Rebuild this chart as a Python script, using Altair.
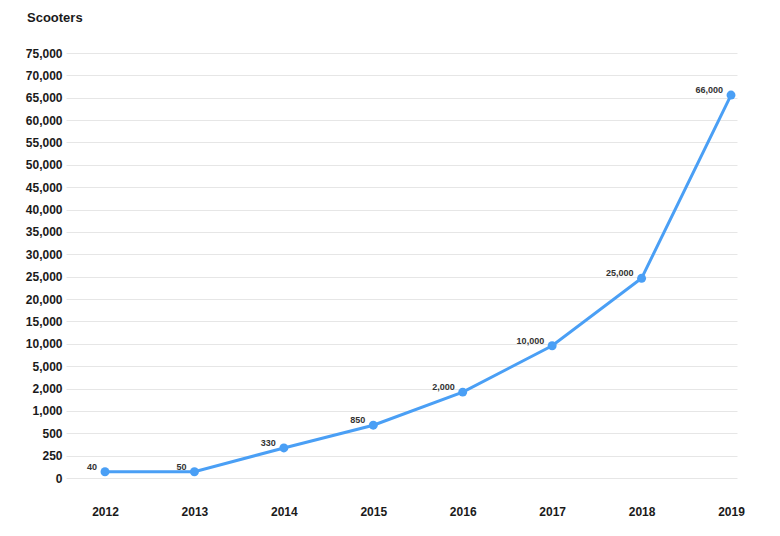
import altair as alt
import pandas as pd

years = [2012, 2013, 2014, 2015, 2016, 2017, 2018, 2019]
# vertical position of each point
plotted = [70, 70, 336, 680, 1840, 9560, 24640, 65600]
# the printed value labels
labels = ["40", "50", "330", "850", "2,000", "10,000", "25,000", "66,000"]
y_ticks = [0, 250, 500, 1000, 2000, 5000, 10000, 15000, 20000, 25000, 30000,
           35000, 40000, 45000, 50000, 55000, 60000, 65000, 70000, 75000]

W, H = 671, 425
FONT = "Liberation Sans"
BLUE = "#4a9ff5"

df = pd.DataFrame({"year": years, "value": plotted, "label": labels})

n = len(y_ticks)
y_range = [H - i * H / (n - 1) for i in range(n)]
yscale = alt.Scale(domain=y_ticks, range=y_range, nice=False, zero=False)
xscale = alt.Scale(domain=[2011.564, 2019.067], nice=False, zero=False)

x_enc = alt.X("year:Q", scale=xscale,
              axis=alt.Axis(values=years, labelExpr="toString(datum.value)",
                            title=None, grid=False, labelFlush=False,
                            labelOverlap=False,
                            domain=False, ticks=False, labelPadding=28,
                            labelFont=FONT, labelFontSize=12, labelFontWeight="bold",
                            labelColor="#1a1a1a"))
y_enc = alt.Y("value:Q", scale=yscale,
              axis=alt.Axis(values=y_ticks, labelExpr="format(datum.value, ',')",
                            title=None, grid=True, labelFlush=False,
                            labelOverlap=False,
                            gridColor="#e6e6e6", gridWidth=1, domain=False,
                            ticks=False, labelPadding=4, labelFont=FONT,
                            labelFontSize=12, labelFontWeight="bold",
                            labelColor="#1a1a1a"))

base = alt.Chart(df).encode(x=x_enc, y=y_enc)

line = base.mark_line(color=BLUE, strokeWidth=3)
pts = base.mark_point(filled=True, color=BLUE, size=80, opacity=1)
txt = base.mark_text(align="right", baseline="middle", dx=-8, dy=-5,
                     font=FONT, fontSize=9, fontWeight="bold",
                     color="#333333").encode(text="label:N")

chart = alt.layer(line, pts, txt).properties(
    width=W, height=H,
    title=alt.TitleParams("Scooters", anchor="start", frame="group", dx=-39,
                          offset=22, font=FONT, fontSize=13, fontWeight="bold",
                          color="#1a1a1a"),
    autosize=alt.AutoSizeParams(type="none"),
    padding={"left": 58, "top": 45, "right": 20, "bottom": 40},
).configure_view(stroke=None)

chart.save("out.html", embed_options={"renderer": "svg", "actions": False})
